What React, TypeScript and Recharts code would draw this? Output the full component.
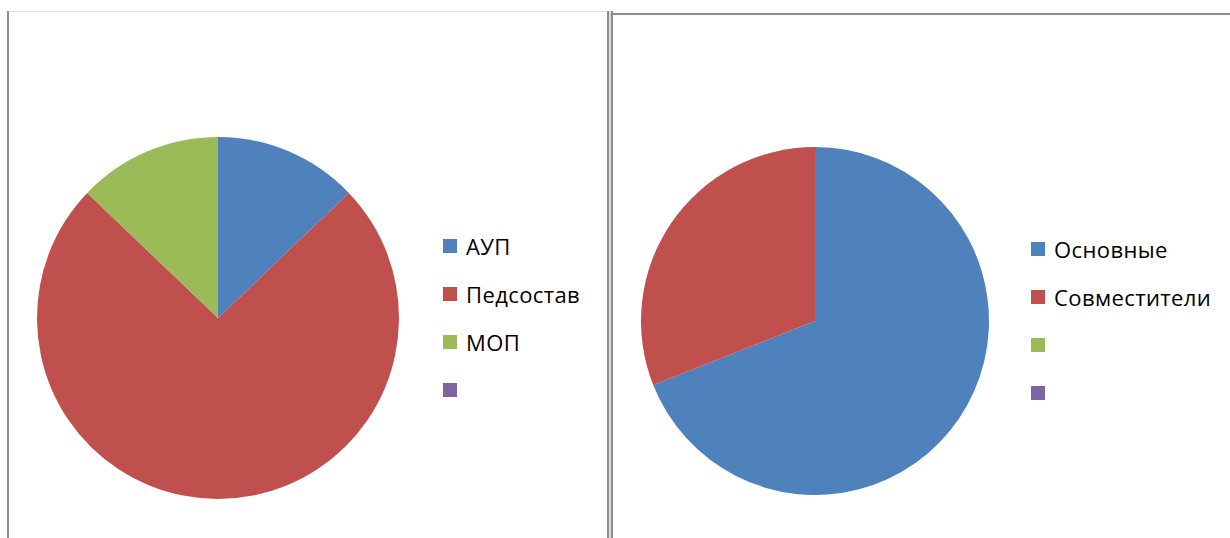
import React from "react";
import { PieChart, Pie, Cell, Legend } from "recharts";

// left chart: staff by category
const staffNames = ["АУП", "Педсостав", "МОП", ""];
const staffValues = [9, 52, 9, 0];

// right chart: staff by employment type
const employNames = ["Основные", "Совместители", "", ""];
const employValues = [69, 31, 0, 0];

const COLORS = ["#4F81BD", "#C0504D", "#9BBB59", "#8064A2"];

const FONT = "'Open Sans', 'Liberation Sans', sans-serif";

const toRows = (names: string[], values: number[]) =>
  names.map((name, i) => ({ name, value: values[i] }));

const LegendList = ({ payload }: any) => (
  <div>
    {(payload || []).map((entry: any, i: number) => (
      <div
        key={i}
        style={{
          display: "flex",
          alignItems: "center",
          height: 48,
          fontFamily: FONT,
          fontSize: 22,
          letterSpacing: 0.4,
          color: "#000",
          whiteSpace: "nowrap",
        }}
      >
        <span
          style={{
            display: "inline-block",
            width: 14,
            height: 14,
            background: entry.color,
            marginRight: 9,
          }}
        />
        <span>{entry.value}</span>
      </div>
    ))}
  </div>
);

type PanelProps = {
  names: string[];
  values: number[];
  width: number;
  cx: number;
  cy: number;
  radius: number;
  legendLeft: number;
  legendTop: number;
};

const PiePanel: React.FC<PanelProps> = ({
  names,
  values,
  width,
  cx,
  cy,
  radius,
  legendLeft,
  legendTop,
}) => (
  <PieChart width={width} height={538} margin={{ top: 0, right: 0, bottom: 0, left: 0 }}>
    <Pie
      data={toRows(names, values)}
      dataKey="value"
      nameKey="name"
      cx={cx}
      cy={cy}
      outerRadius={radius}
      startAngle={90}
      endAngle={-270}
      stroke="none"
      isAnimationActive={false}
      legendType="square"
    >
      {values.map((_, i) => (
        <Cell key={i} fill={COLORS[i % COLORS.length]} />
      ))}
    </Pie>
    <Legend
      layout="vertical"
      itemSorter={null as any}
      content={<LegendList />}
      wrapperStyle={{ position: "absolute", left: legendLeft, top: legendTop, width: "auto" }}
    />
  </PieChart>
);

export default function App() {
  return (
    <div
      style={{
        position: "absolute",
        left: 0,
        top: 0,
        width: 1230,
        height: 538,
        background: "#fff",
        overflow: "hidden",
      }}
    >
      {/* frame lines */}
      <div style={{ position: "absolute", left: 7, top: 11, width: 2, height: 527, background: "#8c8c8c" }} />
      <div style={{ position: "absolute", left: 9, top: 11, width: 598, height: 1, background: "#e3e3e3" }} />
      <div style={{ position: "absolute", left: 607, top: 11, width: 2, height: 527, background: "#8c8c8c" }} />
      <div style={{ position: "absolute", left: 609, top: 11, width: 2, height: 527, background: "#dcdcdc" }} />
      <div style={{ position: "absolute", left: 611, top: 11, width: 2, height: 527, background: "#8c8c8c" }} />
      <div style={{ position: "absolute", left: 613, top: 13, width: 617, height: 2, background: "#8c8c8c" }} />

      <div style={{ position: "absolute", left: 0, top: 0 }}>
        <PiePanel
          names={staffNames}
          values={staffValues}
          width={600}
          cx={218}
          cy={318}
          radius={181}
          legendLeft={443}
          legendTop={222}
        />
      </div>
      <div style={{ position: "absolute", left: 613, top: 0 }}>
        <PiePanel
          names={employNames}
          values={employValues}
          width={617}
          cx={202}
          cy={321}
          radius={174}
          legendLeft={418}
          legendTop={225}
        />
      </div>
    </div>
  );
}
